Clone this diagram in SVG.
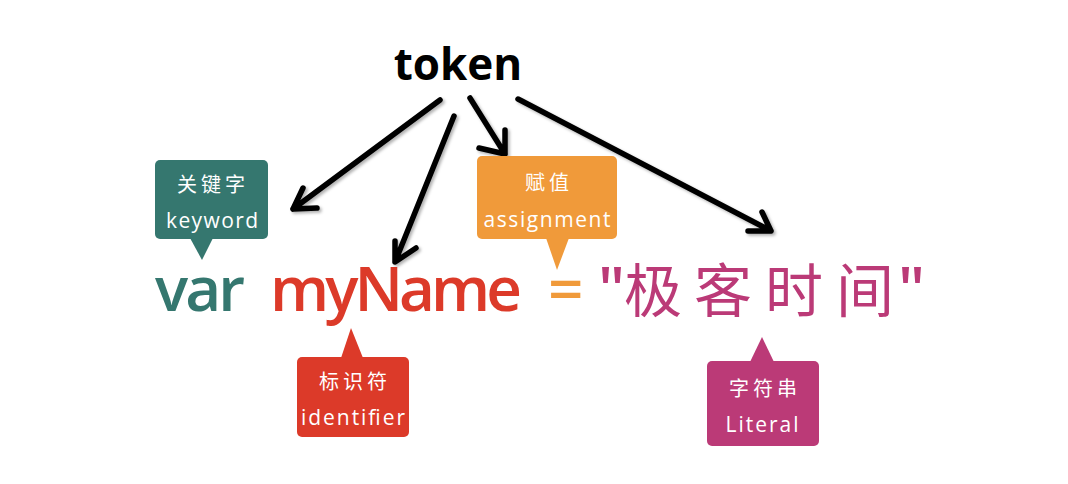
<svg xmlns="http://www.w3.org/2000/svg" width="1068" height="484" viewBox="0 0 1068 484">
<defs>
<style>
.lat{font-family:"Open Sans","Noto Sans",sans-serif;}
.cjk{font-family:"Noto Sans CJK SC",sans-serif;}
.lbl{fill:#ffffff;font-size:21px;text-anchor:middle;}
.lblc{fill:#ffffff;font-size:20px;text-anchor:middle;letter-spacing:4px;font-family:"Noto Sans CJK SC",sans-serif;}
.code{font-family:"Open Sans","Noto Sans",sans-serif;font-size:62px;font-weight:600;}
.str{fill:#bb3a77;font-size:58px;font-family:"Noto Sans CJK SC",sans-serif;}
.arrow{fill:none;stroke:#000000;stroke-width:5.5;stroke-linecap:round;stroke-linejoin:round;}
</style>
<filter id="sh" x="-20%" y="-20%" width="140%" height="140%">
<feDropShadow dx="2" dy="2" stdDeviation="1.5" flood-color="#000" flood-opacity="0.3"/>
</filter>
</defs>
<rect width="1068" height="484" fill="#ffffff"/>

<g id="token">
<text class="lat" x="458" y="80" font-size="44" font-weight="700" text-anchor="middle" fill="#000000">token</text>
</g>

<g id="connectors" filter="url(#sh)">
<path class="arrow" d="M440,100 L293,209 M303,188 L293,209 L317,208"/>
<path class="arrow" d="M454,116 L395,262 M395,241 L395,262 L416,248"/>
<path class="arrow" d="M470,98 L505,154 M505,130 L505,154 L479,148"/>
<path class="arrow" d="M518,99 L771,231 M762,212 L771,231 L748,231"/>
</g>

<g id="keyword">
<rect x="155" y="160" width="113" height="79" rx="5" fill="#35776f"/>
<polygon points="190,238 213,238 202,260" fill="#35776f"/>
<text class="lblc" x="213" y="192">关键字</text>
<text class="lat lbl" x="212" y="228" textLength="92">keyword</text>
</g>

<g id="identifier">
<rect x="297" y="357" width="112" height="80" rx="5" fill="#dc3a29"/>
<polygon points="341,358 363,358 351,328" fill="#dc3a29"/>
<text class="lblc" x="355" y="389">标识符</text>
<text class="lat lbl" x="353" y="425" textLength="104">identifier</text>
</g>

<g id="assignment">
<rect x="477" y="156" width="140" height="83" rx="5" fill="#f09a3a"/>
<polygon points="546,238 569,238 557,270" fill="#f09a3a"/>
<text class="lblc" x="549" y="190">赋值</text>
<text class="lat lbl" x="547" y="227" textLength="127">assignment</text>
</g>

<g id="literal">
<rect x="707" y="361" width="112" height="85" rx="5" fill="#bb3a77"/>
<polygon points="750,362 774,362 762,337" fill="#bb3a77"/>
<text class="lblc" x="765" y="396">字符串</text>
<text class="lat lbl" x="762" y="432" textLength="73">Literal</text>
</g>

<g id="code">
<text class="code" x="155" y="311" fill="#35776f" textLength="90">var</text>
<text class="code" x="270" y="311" fill="#dc3a29" textLength="252">myName</text>
<text class="code" x="548" y="311" fill="#f09a3a" textLength="30">=</text>
<text class="code" x="598" y="311" fill="#bb3a77" font-weight="400" font-size="56">"</text>
<text class="str" x="624" y="312">极</text>
<text class="str" x="694" y="312">客</text>
<text class="str" x="765" y="312">时</text>
<text class="str" x="836" y="312">间</text>
<text class="code" x="898" y="311" fill="#bb3a77" font-weight="400" font-size="56">"</text>
</g>
</svg>
